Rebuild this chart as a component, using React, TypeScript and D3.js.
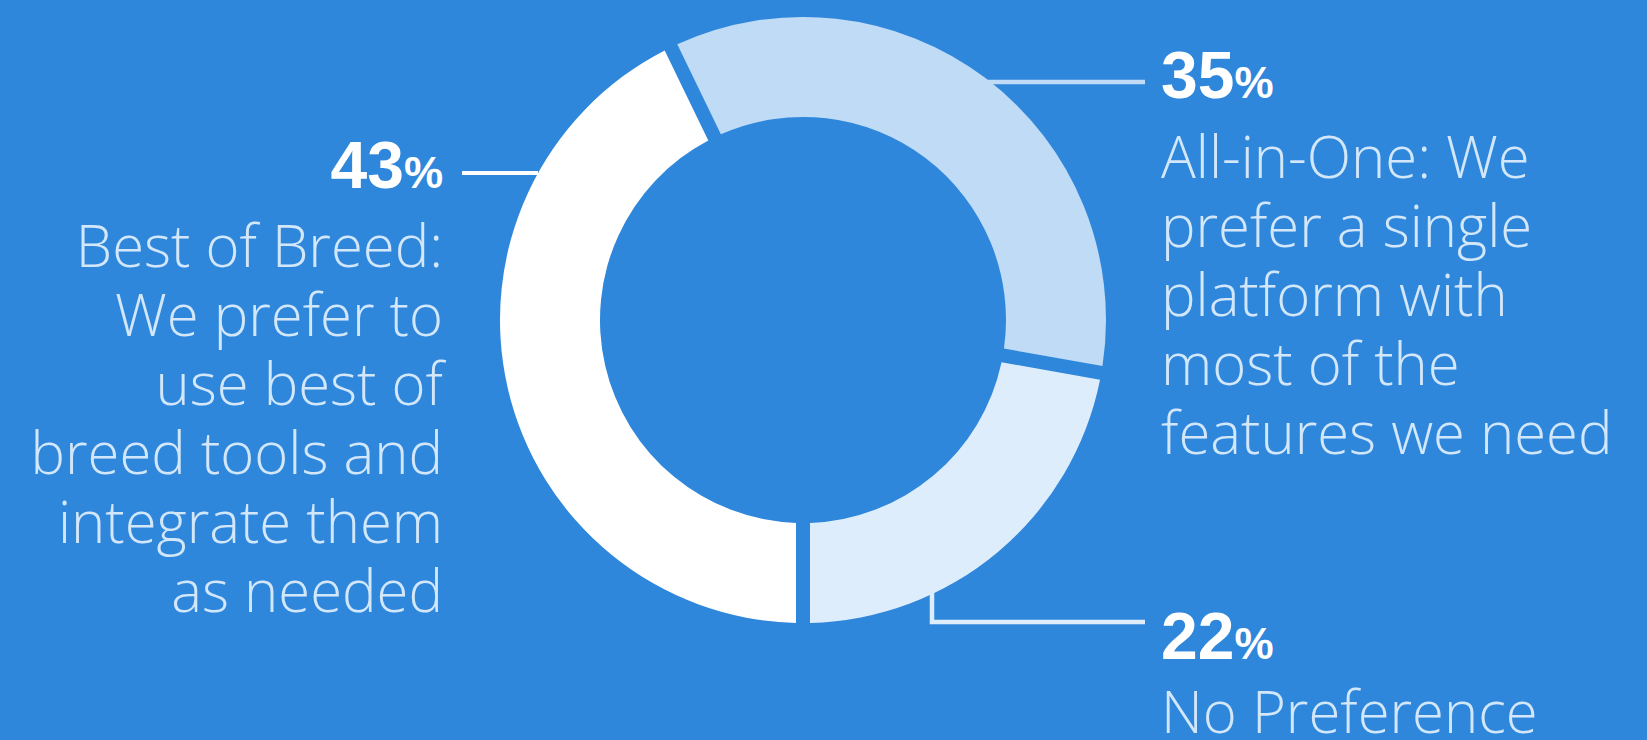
import React from "react";
import * as d3 from "d3";

const categories = ["Best of Breed", "All-in-One", "No Preference"];
const values = [43, 35, 22];
const percentLabels = ["43", "35", "22"];
const descLines = [
  ["Best of Breed:", "We prefer to", "use best of", "breed tools and", "integrate them", "as needed"],
  ["All-in-One: We", "prefer a single", "platform with", "most of the", "features we need"],
  ["No Preference"],
];
const colors = ["#ffffff", "#bfdbf5", "#deedfb"];

const W = 1647;
const H = 740;
const BG = "#2f87dc";
const TEXT = "#d3e7fa";

export default function App() {
  const cx = 803;
  const cy = 320;
  const R = 303;
  const r = 203;

  const pie = d3
    .pie<number>()
    .sort(null)
    .startAngle(Math.PI)
    .endAngle(3 * Math.PI)
    .padAngle(14 / Math.sqrt(R * R + r * r));
  const arcs = pie(values);
  const arcGen = d3.arc<d3.PieArcDatum<number>>().innerRadius(r).outerRadius(R);

  const edgeX = (dy: number, side: number) => cx + side * Math.sqrt(R * R - dy * dy);

  const leftY = 173;
  const rightTopY = 82;
  const botX = 932;
  const botY = 622;
  const labelRightX = 1161;
  const labelLeftX = 443;
  const lineH = 69;

  const numFont = "'Liberation Sans', Arial, sans-serif";
  const descFont = "'Open Sans', 'Noto Sans', sans-serif";

  const pct = (txt: string, x: number, y: number, anchor: "start" | "end") => (
    <text x={x} y={y} textAnchor={anchor} fontFamily={numFont} fontWeight={700} fill="#ffffff">
      <tspan fontSize={66}>{txt}</tspan>
      <tspan fontSize={44}>%</tspan>
    </text>
  );

  const desc = (lines: string[], x: number, y0: number, anchor: "start" | "end") => (
    <text textAnchor={anchor} fontFamily={descFont} fontWeight={300} fontSize={58} fill={TEXT}>
      {lines.map((l, i) => (
        <tspan key={i} x={x} y={y0 + i * lineH}>
          {l}
        </tspan>
      ))}
    </text>
  );

  return (
    <div style={{ position: "absolute", left: 0, top: 0, width: W, height: H, overflow: "hidden" }}>
      <svg width={W} height={H} style={{ display: "block" }}>
        <rect x={0} y={0} width={W} height={H} fill={BG} />
        <g transform={`translate(${cx},${cy})`}>
          {arcs.map((a, i) => (
            <path key={categories[i]} d={arcGen(a) || ""} fill={colors[i]} />
          ))}
        </g>
        <line x1={labelLeftX + 19} x2={edgeX(leftY - cy, -1)} y1={leftY} y2={leftY} stroke={colors[0]} strokeWidth={4} />
        <line x1={edgeX(rightTopY - cy, 1) - 4} x2={labelRightX - 16} y1={rightTopY} y2={rightTopY} stroke={colors[1]} strokeWidth={4.5} />
        <polyline
          points={`${botX},${cy + Math.sqrt(R * R - (botX - cx) ** 2) - 2} ${botX},${botY} ${labelRightX - 16},${botY}`}
          fill="none"
          stroke={colors[2]}
          strokeWidth={4.5}
        />
        {pct(percentLabels[0], labelLeftX, 188, "end")}
        {desc(descLines[0], labelLeftX, 267, "end")}
        {pct(percentLabels[1], labelRightX, 98, "start")}
        {desc(descLines[1], labelRightX, 178, "start")}
        {pct(percentLabels[2], labelRightX, 659, "start")}
        {desc(descLines[2], labelRightX, 733, "start")}
      </svg>
    </div>
  );
}
